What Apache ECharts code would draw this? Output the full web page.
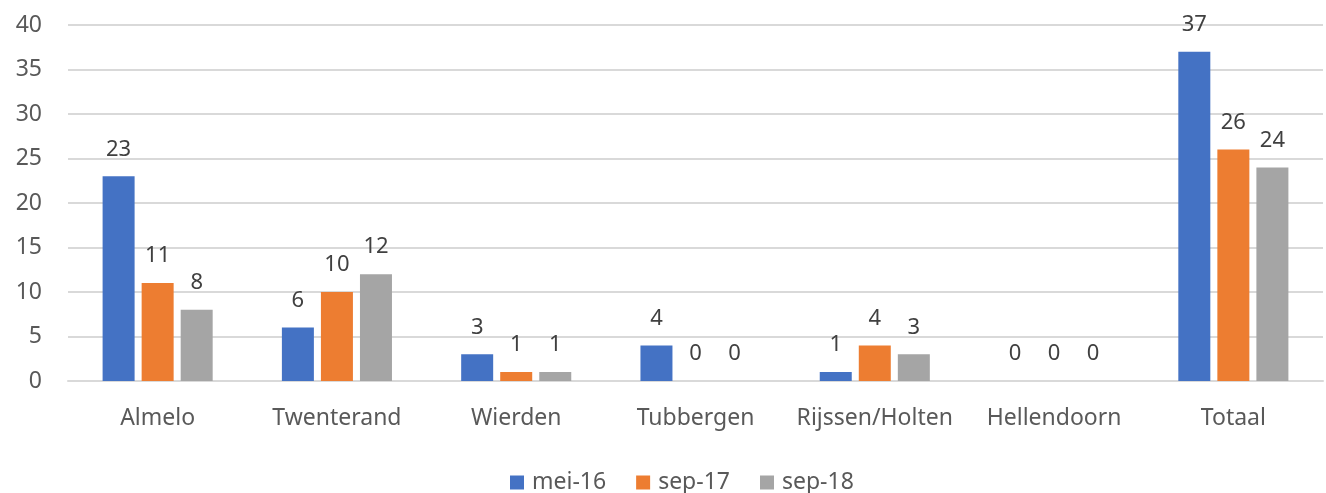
<!DOCTYPE html>
<html><head><meta charset="utf-8">
<script src="https://cdn.jsdelivr.net/npm/echarts@6/dist/echarts.min.js"></script>
<style>html,body{margin:0;padding:0;background:#fff}#c{width:1326px;height:493px}</style>
</head><body><div id="c"></div>
<script>
const categories = ['Almelo','Twenterand','Wierden','Tubbergen','Rijssen/Holten','Hellendoorn','Totaal'];
const seriesNames = ['mei-16','sep-17','sep-18'];
const mei16 = [23,6,3,4,1,0,37];
const sep17 = [11,10,1,0,4,0,26];
const sep18 = [8,12,1,0,3,0,24];
const yTicks = [0,5,10,15,20,25,30,35,40];
const colors = ['#4472C4','#ED7D31','#A5A5A5'];
const font = 'Noto Sans, Liberation Sans, Arial, sans-serif';
const chart = echarts.init(document.getElementById('c'));
const mk = (name, data, i) => ({
  name, type:'bar', data, barWidth:32, barGap:'22%',
  itemStyle:{color:colors[i]},
  label:{show:true, position:'top', distance:16, color:'#404040', fontSize:22, fontFamily:font},
  emphasis:{disabled:true}
});
chart.setOption({
  animation:false,
  grid:{left:68, right:3, top:25, bottom:112, containLabel:false},
  legend:{top:466, left:505, itemWidth:14, itemHeight:14, itemGap:30,
    textStyle:{color:'#595959', fontSize:23, fontFamily:font, padding:[0,0,0,3]},
    data:seriesNames.map((n,i)=>({name:n, icon:'rect'}))},
  xAxis:{type:'category', data:categories,
    axisLine:{lineStyle:{color:'#D9D9D9', width:2}}, axisTick:{show:false},
    axisLabel:{color:'#595959', fontSize:23, fontFamily:font, margin:26, interval:0, hideOverlap:false}},
  yAxis:{type:'value', min:yTicks[0], max:yTicks[yTicks.length-1], interval:5,
    axisLine:{show:false}, axisTick:{show:false},
    splitLine:{lineStyle:{color:'#D9D9D9', width:2}},
    axisLabel:{color:'#595959', fontSize:23, fontFamily:font, margin:26}},
  series:[mk(seriesNames[0],mei16,0), mk(seriesNames[1],sep17,1), mk(seriesNames[2],sep18,2)]
});
</script></body></html>
